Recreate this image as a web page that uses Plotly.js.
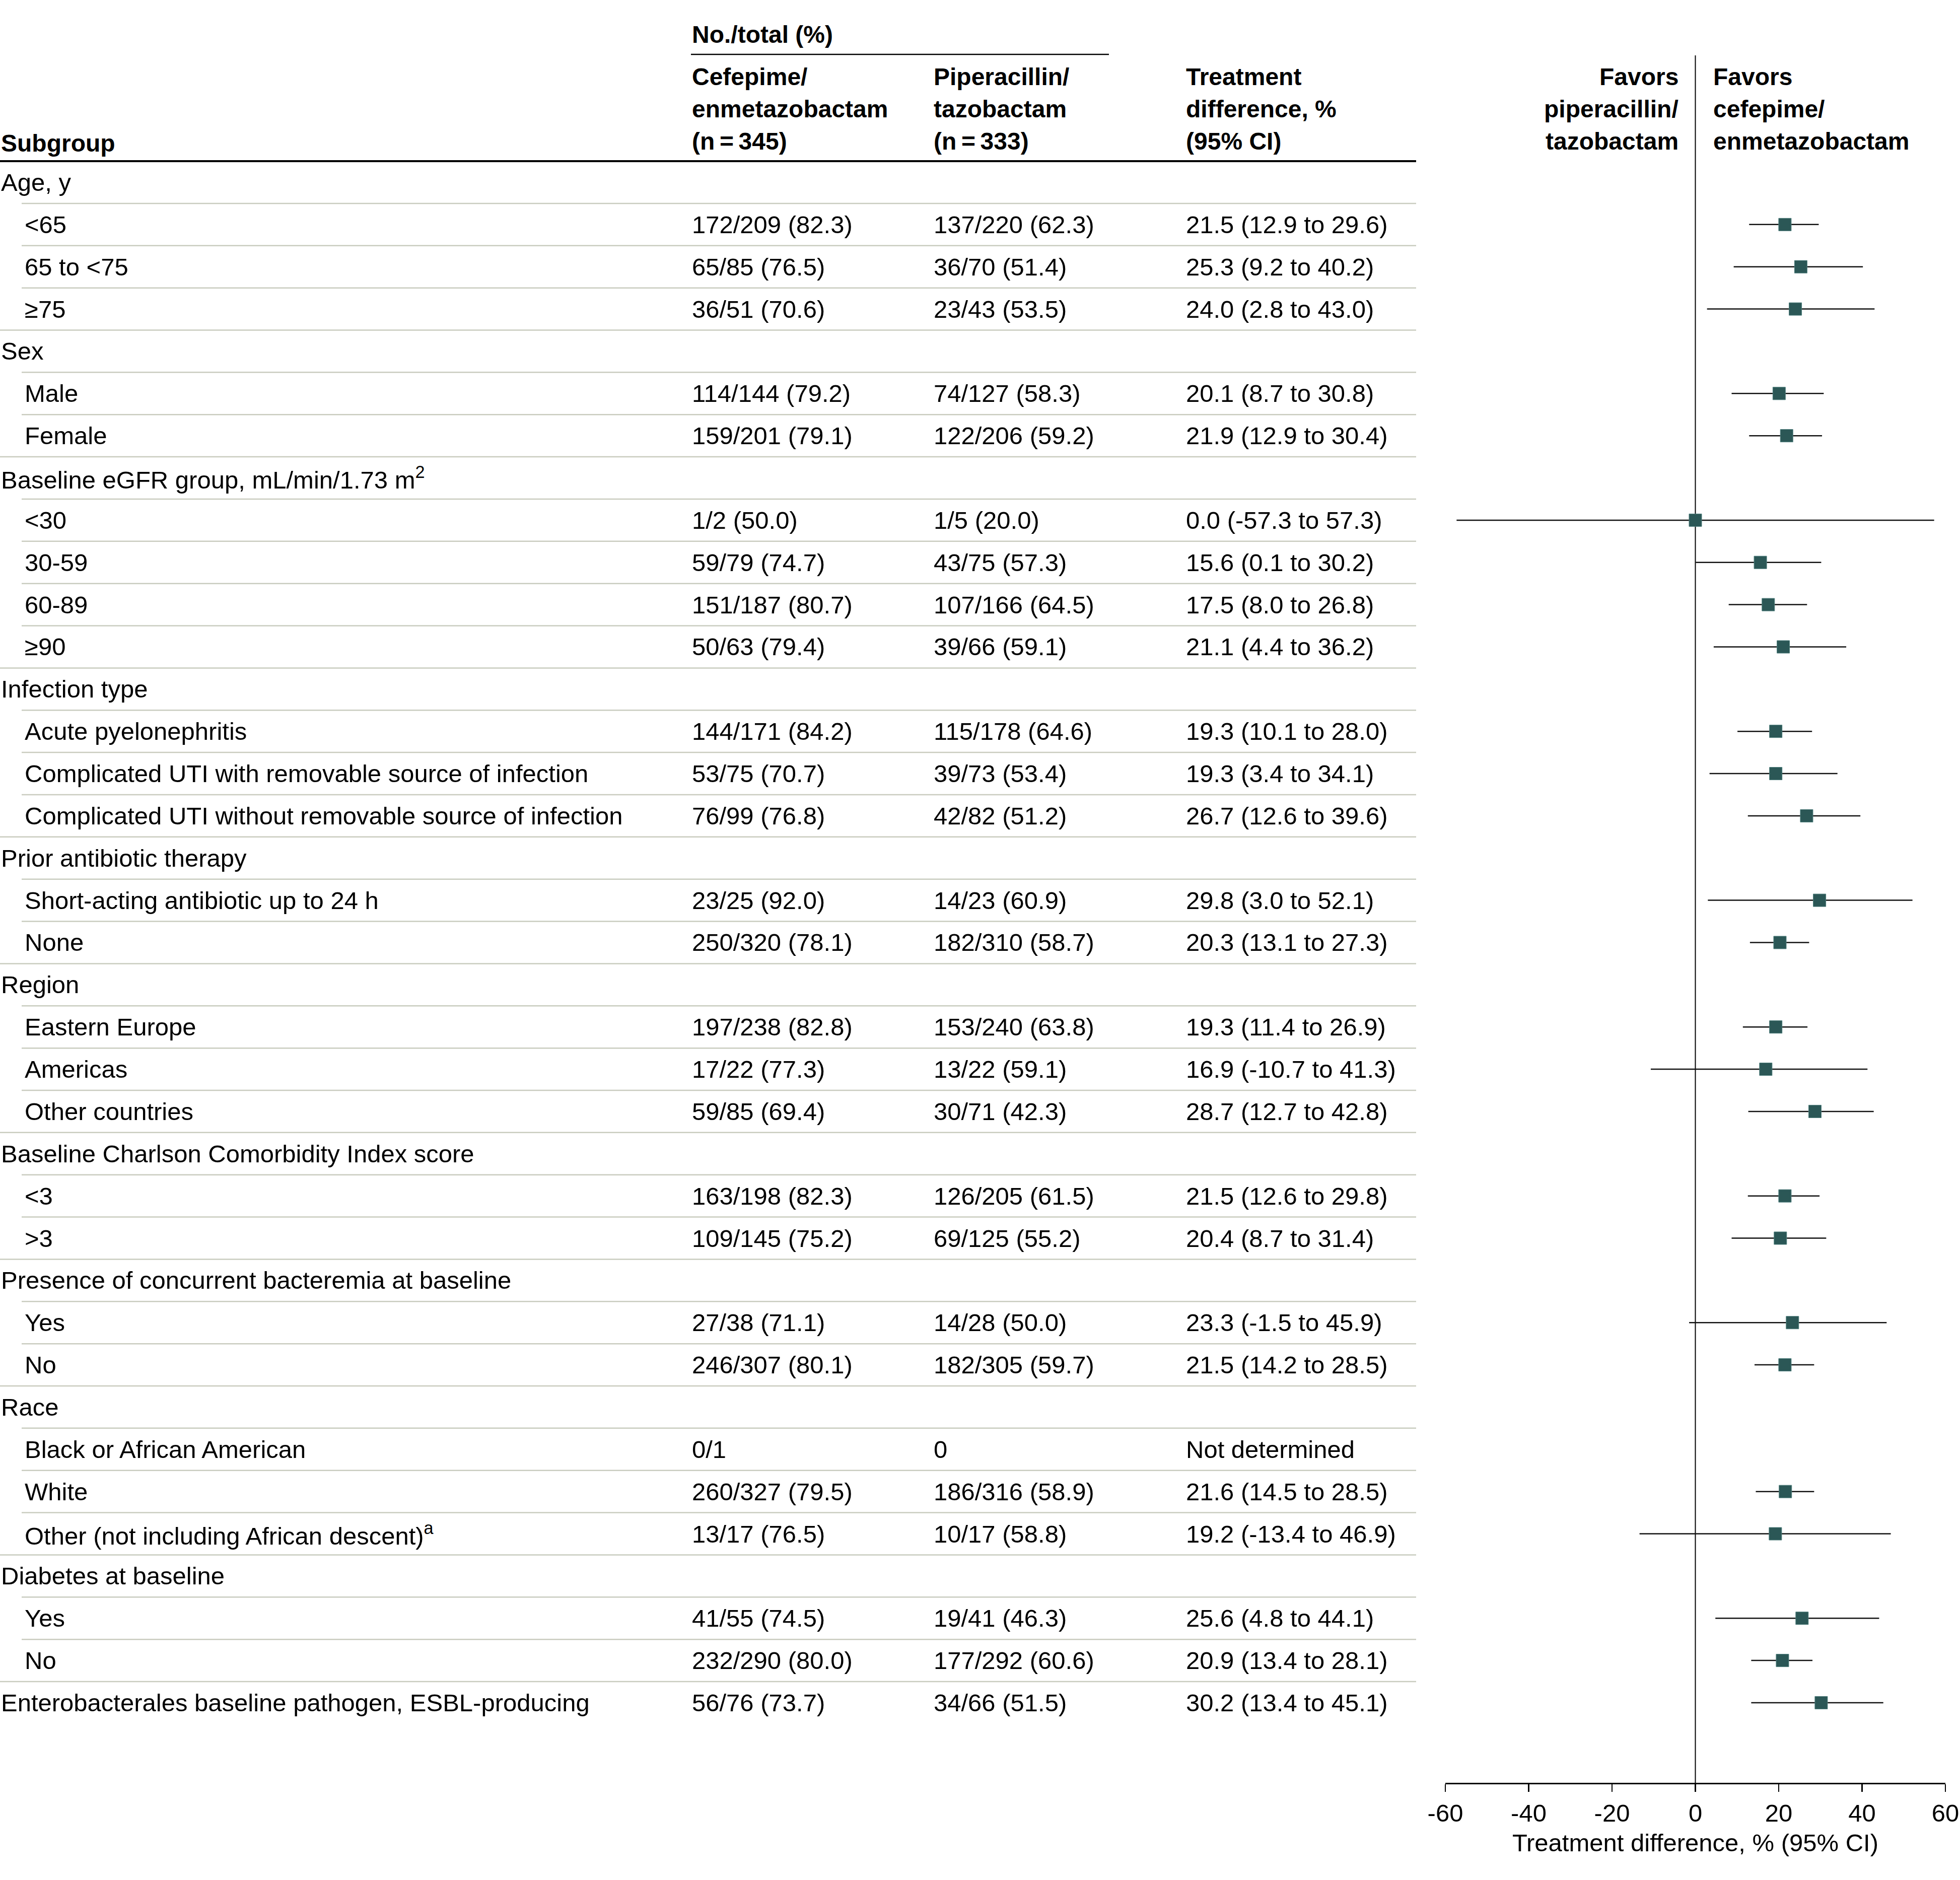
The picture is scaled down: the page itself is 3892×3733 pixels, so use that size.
<!DOCTYPE html>
<html><head><meta charset="utf-8">
<script src="https://cdn.plot.ly/plotly-3.0.1.min.js"></script>
<style>html,body{margin:0;padding:0;background:#fff}</style>
</head><body><div id="chart" style="width:3892px;height:3733px"></div>
<script>
// ---------------- data ----------------
const subgroups = ["Age, y","&lt;65","65 to &lt;75","≥75","Sex","Male","Female",
  "Baseline eGFR group, mL/min/1.73 m<sup>2</sup>","&lt;30","30-59","60-89","≥90",
  "Infection type","Acute pyelonephritis","Complicated UTI with removable source of infection",
  "Complicated UTI without removable source of infection","Prior antibiotic therapy",
  "Short-acting antibiotic up to 24 h","None","Region","Eastern Europe","Americas","Other countries",
  "Baseline Charlson Comorbidity Index score","&lt;3","&gt;3",
  "Presence of concurrent bacteremia at baseline","Yes","No","Race","Black or African American","White",
  "Other (not including African descent)<sup>a</sup>","Diabetes at baseline","Yes","No",
  "Enterobacterales baseline pathogen, ESBL-producing"];
const indentLevel = [0,1,1,1,0,1,1,0,1,1,1,1,0,1,1,1,0,1,1,0,1,1,1,0,1,1,0,1,1,0,1,1,1,0,1,1,0];
const cefepimeText = ["","172/209 (82.3)","65/85 (76.5)","36/51 (70.6)","","114/144 (79.2)","159/201 (79.1)","",
  "1/2 (50.0)","59/79 (74.7)","151/187 (80.7)","50/63 (79.4)","","144/171 (84.2)","53/75 (70.7)","76/99 (76.8)","",
  "23/25 (92.0)","250/320 (78.1)","","197/238 (82.8)","17/22 (77.3)","59/85 (69.4)","","163/198 (82.3)","109/145 (75.2)","",
  "27/38 (71.1)","246/307 (80.1)","","0/1","260/327 (79.5)","13/17 (76.5)","","41/55 (74.5)","232/290 (80.0)","56/76 (73.7)"];
const piperacillinText = ["","137/220 (62.3)","36/70 (51.4)","23/43 (53.5)","","74/127 (58.3)","122/206 (59.2)","",
  "1/5 (20.0)","43/75 (57.3)","107/166 (64.5)","39/66 (59.1)","","115/178 (64.6)","39/73 (53.4)","42/82 (51.2)","",
  "14/23 (60.9)","182/310 (58.7)","","153/240 (63.8)","13/22 (59.1)","30/71 (42.3)","","126/205 (61.5)","69/125 (55.2)","",
  "14/28 (50.0)","182/305 (59.7)","","0","186/316 (58.9)","10/17 (58.8)","","19/41 (46.3)","177/292 (60.6)","34/66 (51.5)"];
const diffEst = [null,21.5,25.3,24.0,null,20.1,21.9,null,0.0,15.6,17.5,21.1,null,19.3,19.3,26.7,null,29.8,20.3,null,
  19.3,16.9,28.7,null,21.5,20.4,null,23.3,21.5,null,null,21.6,19.2,null,25.6,20.9,30.2];
const ciLow = [null,12.9,9.2,2.8,null,8.7,12.9,null,-57.3,0.1,8.0,4.4,null,10.1,3.4,12.6,null,3.0,13.1,null,
  11.4,-10.7,12.7,null,12.6,8.7,null,-1.5,14.2,null,null,14.5,-13.4,null,4.8,13.4,13.4];
const ciHigh = [null,29.6,40.2,43.0,null,30.8,30.4,null,57.3,30.2,26.8,36.2,null,28.0,34.1,39.6,null,52.1,27.3,null,
  26.9,41.3,42.8,null,29.8,31.4,null,45.9,28.5,null,null,28.5,46.9,null,44.1,28.1,45.1];
const tickValues = [-60,-40,-20,0,20,40,60];
const tickLabels = ["-60","-40","-20","0","20","40","60"];
const headerCefepime = ["Cefepime/","enmetazobactam","(n\u2009=\u2009345)"];
const headerPiperacillin = ["Piperacillin/","tazobactam","(n\u2009=\u2009333)"];
const headerDiff = ["Treatment","difference, %","(95% CI)"];
const favorsLeft = ["Favors","piperacillin/","tazobactam"];
const favorsRight = ["Favors","cefepime/","enmetazobactam"];

// ---------------- layout geometry ----------------
const W = 3892, H = 3733;
const FONT = "Liberation Sans, Arial, sans-serif";
const BODY = 49, HEAD = 48;
const axisY = 3540;             // pixel of x-axis line
const row0 = 362, rowH = 83.86; // pixel centre of first row, row pitch
const yTop = -row0 / rowH, yBot = (axisY - row0) / rowH;
const px = v => v / W;
const py = v => 1 - v / H;
const rowIdx = subgroups.map((_, i) => i);
const colX = {c1: 1372, c2: 1852, c3: 2353};

const annotations = [];
function addText(text, x, y, opts) {
  annotations.push(Object.assign({
    text, x: px(x), xref: "paper", y, yref: "y", showarrow: false,
    xanchor: "left", yanchor: "middle",
    font: {family: FONT, size: BODY, color: "#000"}
  }, opts || {}));
}
const diffText = diffEst.map((e, i) => cefepimeText[i] === "" ? "" :
  (e === null ? "Not determined" : `${e.toFixed(1)} (${ciLow[i].toFixed(1)} to ${ciHigh[i].toFixed(1)})`));

rowIdx.forEach(i => {
  addText(subgroups[i], indentLevel[i] ? 47 : 0, i);
  if (cefepimeText[i]) addText(cefepimeText[i], colX.c1, i);
  if (piperacillinText[i]) addText(piperacillinText[i], colX.c2, i);
  if (diffText[i]) addText(diffText[i], colX.c3, i);
});

// header texts (paper y)
const headFont = {family: FONT, size: HEAD, color: "#000", weight: "bold"};
const headLines = [152, 216, 281];
function addHead(text, x, yPix, anchor) {
  annotations.push({text, x: px(x), xref: "paper", y: py(yPix), yref: "paper", showarrow: false,
    xanchor: anchor || "left", yanchor: "middle", font: headFont});
}
addHead("Subgroup", 0, 284);
addHead("No./total (%)", colX.c1, 68);
headerCefepime.forEach((t, k) => addHead(t, colX.c1, headLines[k]));
headerPiperacillin.forEach((t, k) => addHead(t, colX.c2, headLines[k]));
headerDiff.forEach((t, k) => addHead(t, colX.c3, headLines[k]));
favorsLeft.forEach((t, k) => addHead(t, 3335, headLines[k], "right"));
favorsRight.forEach((t, k) => addHead(t, 3400, headLines[k]));

// shapes
const shapes = [];
const tableRight = px(2812);
for (let k = 0; k < subgroups.length - 1; k++) {
  const start = indentLevel[k + 1] ? 43 : 0;
  shapes.push({type: "line", xref: "paper", yref: "y", x0: px(start), x1: tableRight,
    y0: k + 0.5, y1: k + 0.5, line: {color: "#c9ccbf", width: 2.5}, layer: "below"});
}
shapes.push({type: "line", xref: "paper", yref: "paper", x0: 0, x1: tableRight,
  y0: py(320), y1: py(320), line: {color: "#000", width: 4}});
shapes.push({type: "line", xref: "paper", yref: "paper", x0: px(1372), x1: px(2202),
  y0: py(108), y1: py(108), line: {color: "#000", width: 2.5}});
shapes.push({type: "line", xref: "x", yref: "y", x0: 0, x1: 0, y0: (110 - row0) / rowH, y1: yBot,
  line: {color: "#000", width: 2}, layer: "below"});

const trace = {
  type: "scatter", mode: "markers", x: diffEst, y: rowIdx,
  marker: {symbol: "square", size: 25, color: "#2b5756", line: {color: "#4f7f7d", width: 1}},
  error_x: {type: "data", symmetric: false,
    array: diffEst.map((e, i) => e === null ? null : ciHigh[i] - e),
    arrayminus: diffEst.map((e, i) => e === null ? null : e - ciLow[i]),
    color: "#111", thickness: 2.5, width: 0},
  hoverinfo: "skip", cliponaxis: false
};

const layout = {
  width: W, height: H, margin: {l: 0, r: 0, t: 0, b: 0},
  paper_bgcolor: "#fff", plot_bgcolor: "#fff", showlegend: false,
  xaxis: {domain: [px(2870), px(3863)], range: [-60, 60], tickvals: tickValues, ticktext: tickLabels,
    ticks: "outside", ticklen: 15, tickwidth: 2.5, tickcolor: "#000",
    showline: true, linecolor: "#000", linewidth: 3, showgrid: false, zeroline: false,
    tickfont: {family: FONT, size: BODY, color: "#000"},
    title: {text: "Treatment difference, % (95% CI)", font: {family: FONT, size: BODY, color: "#000"}, standoff: 16},
    automargin: false, fixedrange: true},
  yaxis: {domain: [(H - axisY) / H, 1], range: [yBot, yTop], visible: false, showgrid: false, zeroline: false,
    automargin: false, fixedrange: true},
  annotations, shapes
};
Plotly.newPlot("chart", [trace], layout, {staticPlot: true, displayModeBar: false});
</script></body></html>
